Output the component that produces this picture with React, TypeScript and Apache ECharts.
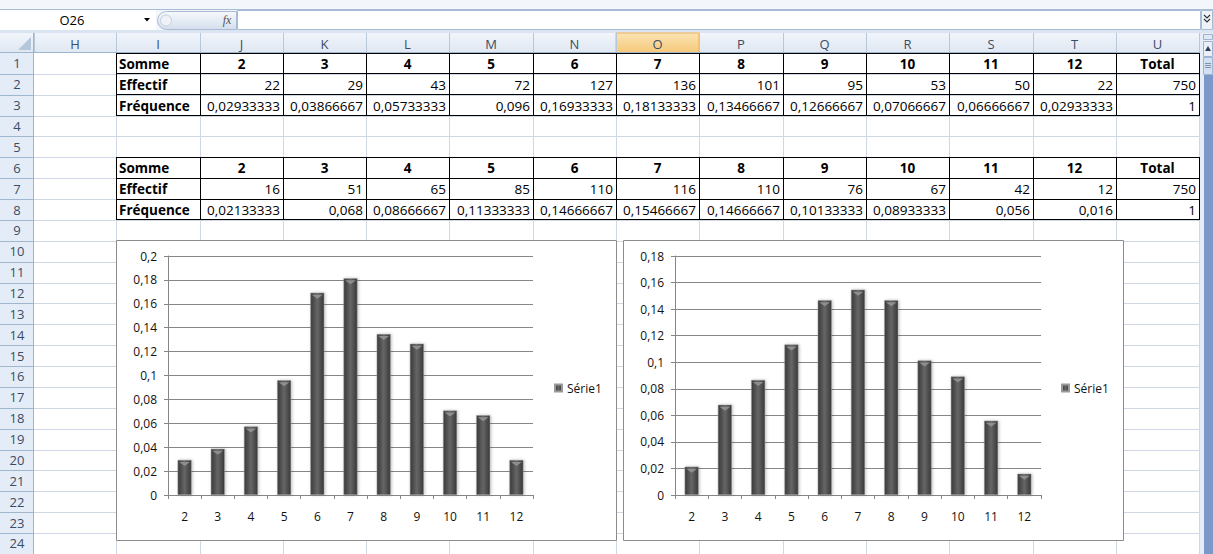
import React, { useEffect, useRef } from 'react';
import * as echarts from 'echarts';

// ---------- data ----------
const sums = ['2', '3', '4', '5', '6', '7', '8', '9', '10', '11', '12'];
const effectif1 = [22, 29, 43, 72, 127, 136, 101, 95, 53, 50, 22];
const frequence1 = [0.02933333, 0.03866667, 0.05733333, 0.096, 0.16933333, 0.18133333, 0.13466667, 0.12666667, 0.07066667, 0.06666667, 0.02933333];
const effectif2 = [16, 51, 65, 85, 110, 116, 110, 76, 67, 42, 12];
const frequence2 = [0.02133333, 0.068, 0.08666667, 0.11333333, 0.14666667, 0.15466667, 0.14666667, 0.10133333, 0.08933333, 0.056, 0.016];
const totalEffectif = 750;
const totalFrequence = 1;
const rowLabels = ['Somme', 'Effectif', 'Fréquence'];
const totalLabel = 'Total';
const columnLetters = ['H', 'I', 'J', 'K', 'L', 'M', 'N', 'O', 'P', 'Q', 'R', 'S', 'T', 'U'];
const seriesName = 'Série1';
const nameBoxText = 'O26';
const yMax1 = 0.2;
const yMax2 = 0.18;
const yStep = 0.02;

// ---------- layout ----------
const W = 1213;
const H = 554;
const FONT = '"Open Sans", sans-serif';
const COL_EDGES = [34, 116, 200, 283, 366, 449, 533, 616, 699, 783, 866, 949, 1033, 1116, 1199];
const HEADER_TOP = 33;
const ROW_TOP = 53;
const ROW_H = 20.87;
const N_ROWS = 24;
const rowTop = (r: number) => ROW_TOP + (r - 1) * ROW_H;
const px = (v: number) => Math.round(v) + 0.5;
const fmtNum = (v: number) => String(v).replace('.', ',');
const fmtAxis = (v: number) => String(Number(v.toFixed(4))).replace('.', ',');

function buildGraphic() {
  const els: any[] = [];
  const gridColor = '#d0d7e5';
  const headBorder = '#9eb6ce';

  els.push({ type: 'rect', shape: { x: 0, y: 0, width: W, height: H }, style: { fill: '#ffffff' } });

  // toolbar
  els.push({ type: 'rect', shape: { x: 0, y: 0, width: W, height: HEADER_TOP }, style: { fill: '#f3f6fb' } });
  els.push({ type: 'rect', shape: { x: 0, y: 30, width: W, height: 3 }, style: { fill: '#dbe5f2' } });
  els.push({ type: 'line', shape: { x1: 0, y1: 9.5, x2: W, y2: 9.5 }, style: { stroke: '#a7bbd6', lineWidth: 1 } });
  els.push({ type: 'rect', shape: { x: 0, y: 10, width: 156, height: 20 }, style: { fill: '#ffffff' } });
  els.push({ type: 'text', style: { text: nameBoxText, x: 72, y: 20, align: 'center', verticalAlign: 'middle', fontSize: 13, fontFamily: FONT, fill: '#000' } });
  els.push({ type: 'polygon', shape: { points: [[144, 18], [150, 18], [147, 21.5]] }, style: { fill: '#000' } });
  els.push({
    type: 'rect', shape: { x: 157.5, y: 11.5, width: 79, height: 18, r: [9, 0, 0, 9] },
    style: { fill: { type: 'linear', x: 0, y: 0, x2: 0, y2: 1, colorStops: [{ offset: 0, color: '#f7f9fc' }, { offset: 1, color: '#d3deec' }] }, stroke: '#a9bbd3', lineWidth: 1 },
  });
  els.push({ type: 'circle', shape: { cx: 166, cy: 20.5, r: 5.5 }, style: { fill: '#eef2f7', stroke: '#c3cfdf', lineWidth: 1 } });
  els.push({ type: 'text', style: { text: 'fx', x: 227, y: 20, align: 'center', verticalAlign: 'middle', fontSize: 12, fontStyle: 'italic', fontFamily: 'serif', fill: '#555' } });
  els.push({ type: 'rect', shape: { x: 237.5, y: 10.5, width: 963, height: 19 }, style: { fill: '#ffffff', stroke: '#a9bcd6', lineWidth: 1 } });
  els.push({ type: 'rect', shape: { x: 1201.5, y: 10.5, width: 11, height: 19 }, style: { fill: '#eef3fa', stroke: '#a9bcd6', lineWidth: 1 } });
  els.push({ type: 'polyline', shape: { points: [[1204, 15], [1207, 18], [1210, 15]] }, style: { stroke: '#333', lineWidth: 1.2, fill: null } });
  els.push({ type: 'polyline', shape: { points: [[1204, 19], [1207, 22], [1210, 19]] }, style: { stroke: '#333', lineWidth: 1.2, fill: null } });

  // column header
  els.push({
    type: 'rect', shape: { x: 0, y: HEADER_TOP, width: 1200, height: ROW_TOP - HEADER_TOP },
    style: { fill: { type: 'linear', x: 0, y: 0, x2: 0, y2: 1, colorStops: [{ offset: 0, color: '#f1f5fb' }, { offset: 1, color: '#dfe7f2' }] } },
  });
  const oIdx = columnLetters.indexOf('O');
  els.push({
    type: 'rect', shape: { x: COL_EDGES[oIdx], y: HEADER_TOP, width: COL_EDGES[oIdx + 1] - COL_EDGES[oIdx], height: ROW_TOP - HEADER_TOP },
    style: { fill: { type: 'linear', x: 0, y: 0, x2: 0, y2: 1, colorStops: [{ offset: 0, color: '#fbe3b4' }, { offset: 1, color: '#f5c878' }] }, stroke: '#f0b35a', lineWidth: 1 },
  });
  els.push({ type: 'polygon', shape: { points: [[31, 37], [31, 50], [18, 50]] }, style: { fill: '#b4c6dc' } });
  for (let i = 0; i < COL_EDGES.length; i++) {
    els.push({ type: 'line', shape: { x1: px(COL_EDGES[i]), y1: HEADER_TOP, x2: px(COL_EDGES[i]), y2: ROW_TOP }, style: { stroke: '#b7c8dc', lineWidth: 1 } });
  }
  columnLetters.forEach((c, i) => {
    els.push({ type: 'text', style: { text: c, x: (COL_EDGES[i] + COL_EDGES[i + 1]) / 2, y: (HEADER_TOP + ROW_TOP) / 2 + 0.5, align: 'center', verticalAlign: 'middle', fontSize: 13, fontFamily: FONT, fill: '#3b4d66' } });
  });
  els.push({ type: 'line', shape: { x1: 0, y1: px(ROW_TOP - 1), x2: 1200, y2: px(ROW_TOP - 1) }, style: { stroke: headBorder, lineWidth: 1 } });

  // row header
  els.push({ type: 'rect', shape: { x: 0, y: ROW_TOP, width: 34, height: H - ROW_TOP }, style: { fill: '#e4ecf7' } });
  for (let r = 1; r <= N_ROWS; r++) {
    const t = rowTop(r);
    els.push({ type: 'text', style: { text: String(r), x: 17, y: t + ROW_H / 2, align: 'center', verticalAlign: 'middle', fontSize: 13, fontFamily: FONT, fill: '#3b4d66' } });
    els.push({ type: 'line', shape: { x1: 0, y1: px(t + ROW_H), x2: 34, y2: px(t + ROW_H) }, style: { stroke: headBorder, lineWidth: 1 } });
  }
  els.push({ type: 'line', shape: { x1: px(33), y1: HEADER_TOP, x2: px(33), y2: H }, style: { stroke: headBorder, lineWidth: 1 } });

  // grid lines
  for (let r = 1; r <= N_ROWS; r++) {
    const y = px(rowTop(r) + ROW_H);
    els.push({ type: 'line', shape: { x1: 34, y1: y, x2: 1199, y2: y }, style: { stroke: gridColor, lineWidth: 1 } });
  }
  for (let i = 1; i < COL_EDGES.length; i++) {
    els.push({ type: 'line', shape: { x1: px(COL_EDGES[i]), y1: ROW_TOP, x2: px(COL_EDGES[i]), y2: H }, style: { stroke: gridColor, lineWidth: 1 } });
  }

  // tables
  const cellText = (col: number, row: number, text: string, align: string, bold: boolean) => {
    const l = COL_EDGES[col];
    const r = COL_EDGES[col + 1];
    const x = align === 'left' ? l + 3 : align === 'right' ? r - 3 : (l + r) / 2;
    els.push({ type: 'text', style: { text, x, y: rowTop(row) + ROW_H / 2 + 0.5, align, verticalAlign: 'middle', fontSize: 13.5, fontWeight: bold ? 'bold' : 'normal', fontFamily: FONT, fill: '#000' } });
  };
  const table = (startRow: number, eff: number[], freq: number[]) => {
    cellText(1, startRow, rowLabels[0], 'left', true);
    cellText(1, startRow + 1, rowLabels[1], 'left', true);
    cellText(1, startRow + 2, rowLabels[2], 'left', true);
    sums.forEach((s, i) => {
      cellText(2 + i, startRow, s, 'center', true);
      cellText(2 + i, startRow + 1, String(eff[i]), 'right', false);
      cellText(2 + i, startRow + 2, fmtNum(freq[i]), 'right', false);
    });
    cellText(13, startRow, totalLabel, 'center', true);
    cellText(13, startRow + 1, String(totalEffectif), 'right', false);
    cellText(13, startRow + 2, fmtNum(totalFrequence), 'right', false);
    for (let k = 0; k <= 3; k++) {
      const y = px(rowTop(startRow + k) - 0.5);
      els.push({ type: 'line', shape: { x1: COL_EDGES[1], y1: y, x2: COL_EDGES[14] + 1, y2: y }, style: { stroke: '#000', lineWidth: 1 } });
    }
    for (let i = 1; i < COL_EDGES.length; i++) {
      const x = px(COL_EDGES[i]);
      els.push({ type: 'line', shape: { x1: x, y1: px(rowTop(startRow) - 0.5), x2: x, y2: px(rowTop(startRow + 3) - 0.5) }, style: { stroke: '#000', lineWidth: 1 } });
    }
  };
  table(1, effectif1, frequence1);
  table(6, effectif2, frequence2);

  // chart boxes
  els.push({ type: 'rect', shape: { x: 116.5, y: 240.5, width: 500, height: 300 }, style: { fill: '#ffffff', stroke: '#8c8c8c', lineWidth: 1 } });
  els.push({ type: 'rect', shape: { x: 623.5, y: 240.5, width: 500, height: 300 }, style: { fill: '#ffffff', stroke: '#8c8c8c', lineWidth: 1 } });

  // scrollbar
  els.push({ type: 'rect', shape: { x: 1200, y: HEADER_TOP, width: 13, height: H - HEADER_TOP }, style: { fill: '#e6edf7' } });
  els.push({ type: 'rect', shape: { x: 1204, y: 75, width: 9, height: H - 75 }, style: { fill: '#7a98c8' } });
  els.push({ type: 'rect', shape: { x: 1203.5, y: 34.5, width: 9, height: 5 }, style: { fill: '#dfe8f4', stroke: '#9fb4d0', lineWidth: 1 } });
  els.push({ type: 'rect', shape: { x: 1203.5, y: 41.5, width: 9, height: 15 }, style: { fill: '#e9f0f9', stroke: '#9fb4d0', lineWidth: 1 } });
  els.push({ type: 'polygon', shape: { points: [[1205, 51], [1211, 51], [1208, 46]] }, style: { fill: '#2f3f55' } });
  els.push({ type: 'rect', shape: { x: 1203.5, y: 57.5, width: 9, height: 17 }, style: { fill: '#d3e0f1', stroke: '#9fb4d0', lineWidth: 1 } });
  for (let k = 0; k < 3; k++) {
    els.push({ type: 'line', shape: { x1: 1205, y1: 63.5 + k * 2, x2: 1211, y2: 63.5 + k * 2 }, style: { stroke: '#7f93ad', lineWidth: 1 } });
  }

  return els;
}

const barColor = {
  type: 'linear', x: 0, y: 0, x2: 1, y2: 0,
  colorStops: [
    { offset: 0, color: '#3a3a3a' },
    { offset: 0.5, color: '#666666' },
    { offset: 1, color: '#383838' },
  ],
};

function barSeries(idx: number, data: number[]) {
  return [
    {
      type: 'bar', name: seriesName, xAxisIndex: idx, yAxisIndex: idx, data, barWidth: '42%', z: 11,
      itemStyle: { color: barColor, borderColor: '#9a9a9a', borderWidth: 0.5, shadowColor: 'rgba(0,0,0,0.25)', shadowBlur: 3, shadowOffsetX: 1 },
    },
    {
      type: 'pictorialBar', name: 'bevel', xAxisIndex: idx, yAxisIndex: idx, data, z: 12,
      symbol: 'triangle', symbolRotate: 180, symbolSize: [11, 4], symbolPosition: 'end', symbolOffset: [0, 2],
      itemStyle: { color: '#8e8e8e' }, silent: true,
    },
  ];
}

function axesFor(idx: number, max: number) {
  const lineColor = '#868686';
  return {
    x: {
      type: 'category', gridIndex: idx, data: sums, z: 10,
      axisLine: { show: true, lineStyle: { color: lineColor } },
      axisTick: { show: true, length: 4, lineStyle: { color: lineColor } },
      axisLabel: { color: '#111', fontSize: 12, fontFamily: FONT, margin: 15 },
    },
    y: {
      type: 'value', gridIndex: idx, min: 0, max, interval: yStep, z: 10,
      axisLine: { show: true, lineStyle: { color: lineColor } },
      axisTick: { show: true, length: 4, lineStyle: { color: lineColor } },
      splitLine: { show: true, lineStyle: { color: lineColor, width: 1 } },
      axisLabel: { color: '#111', fontSize: 12, fontFamily: FONT, margin: 11, formatter: (v: number) => fmtAxis(v) },
    },
  };
}

export default function App() {
  const ref = useRef<HTMLDivElement>(null);
  useEffect(() => {
    document.body.style.margin = '0';
    const chart = echarts.init(ref.current!, null, { renderer: 'svg', width: W, height: H });
    const a1 = axesFor(0, yMax1);
    const a2 = axesFor(1, yMax2);
    chart.setOption({
      animation: false,
      graphic: { elements: buildGraphic() },
      grid: [
        { left: 168, top: 256, width: 365, height: 239 },
        { left: 675, top: 256, width: 366, height: 239 },
      ],
      xAxis: [a1.x, a2.x],
      yAxis: [a1.y, a2.y],
      legend: [
        { data: [seriesName], left: 554, top: 382, itemWidth: 7, itemHeight: 7, icon: 'rect', padding: 0, z: 13, textStyle: { fontSize: 12, fontFamily: FONT, color: '#111' } },
        { data: [seriesName], left: 1061, top: 382, itemWidth: 7, itemHeight: 7, icon: 'rect', padding: 0, z: 13, textStyle: { fontSize: 12, fontFamily: FONT, color: '#111' } },
      ],
      series: [...barSeries(0, frequence1), ...barSeries(1, frequence2)],
    });
    return () => chart.dispose();
  }, []);
  return <div ref={ref} style={{ position: 'absolute', left: 0, top: 0, width: W, height: H }} />;
}
